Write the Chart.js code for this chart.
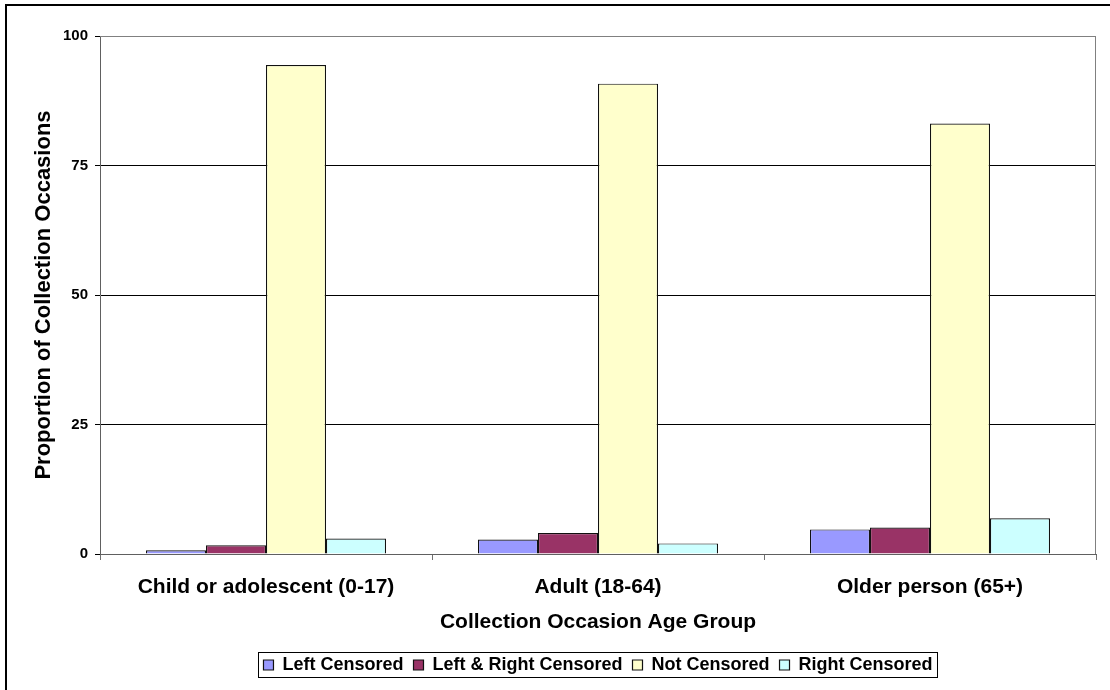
<!DOCTYPE html>
<html>
<head>
<meta charset="utf-8">
<script src="https://cdn.jsdelivr.net/npm/chart.js@4/dist/chart.umd.min.js"></script>
<style>
    html, body { margin: 0; padding: 0; background: #fff; }
    #wrap { width: 1110px; height: 690px; position: relative; }
</style>
</head>
<body>
<div id="wrap"><canvas id="chart" width="1110" height="690"></canvas></div>
<script>
// Data
const categories = ['Child or adolescent (0-17)', 'Adult (18-64)', 'Older person (65+)'];
const leftCensored = [0.7, 2.8, 4.75];
const leftRightCensored = [1.7, 4.05, 5.1];
const notCensored = [94.4, 90.8, 83.1];
const rightCensored = [3.0, 2.05, 6.9];
const yTicks = [0, 25, 50, 75, 100];

const FONT = 'Arial, "Liberation Sans", sans-serif';

// Outer frame, grey plot-area border and a box round the legend
const framePlugin = {
    id: 'frame',
    beforeDraw(chart) {
        const ctx = chart.ctx;
        ctx.save();
        ctx.fillStyle = '#fff';
        ctx.fillRect(0, 0, chart.width, chart.height);
        ctx.strokeStyle = '#000';
        ctx.lineWidth = 2;
        ctx.strokeRect(6, 5, chart.width + 10, chart.height + 10);
        ctx.restore();
    },
    beforeDatasetsDraw(chart) {
        const a = chart.chartArea;
        const ctx = chart.ctx;
        ctx.save();
        ctx.strokeStyle = '#808080';
        ctx.lineWidth = 1;
        ctx.beginPath();
        ctx.moveTo(a.left, a.top + 0.5);
        ctx.lineTo(a.right - 0.5, a.top + 0.5);
        ctx.lineTo(a.right - 0.5, a.bottom);
        ctx.stroke();
        ctx.restore();
    },
    afterDraw(chart) {
        const lg = chart.legend;
        if (!lg || !lg.legendHitBoxes.length) return;
        const boxes = lg.legendHitBoxes;
        const first = boxes[0];
        const last = boxes[boxes.length - 1];
        const ctx = chart.ctx;
        ctx.save();
        ctx.strokeStyle = '#000';
        ctx.lineWidth = 1;
        const x0 = Math.round(first.left) - 4.5;
        const x1 = Math.round(last.left + last.width) + 4.5;
        const y0 = Math.round(first.top) - 3.5;
        const y1 = Math.round(first.top + first.height) + 3.5;
        ctx.strokeRect(x0, y0, x1 - x0, y1 - y0);
        ctx.restore();
    }
};

function makeDataset(label, data, color) {
    return {
        label: label,
        data: data,
        backgroundColor: color,
        borderColor: '#111',
        borderWidth: 1.2,
        categoryPercentage: 0.723,
        barPercentage: 1.0
    };
}

const ctx = document.getElementById('chart');
new Chart(ctx, {
    type: 'bar',
    data: {
        labels: categories,
        datasets: [
            makeDataset('Left Censored', leftCensored, '#9999FF'),
            makeDataset('Left & Right Censored', leftRightCensored, '#993366'),
            makeDataset('Not Censored', notCensored, '#FFFFCC'),
            makeDataset('Right Censored', rightCensored, '#CCFFFF')
        ]
    },
    options: {
        responsive: false,
        animation: false,
        devicePixelRatio: 1,
        layout: {
            padding: { left: 5, top: 36, right: 14, bottom: 6 }
        },
        plugins: {
            tooltip: { enabled: false },
            legend: {
                position: 'bottom',
                fullSize: false,
                labels: {
                    color: '#000',
                    font: { family: FONT, size: 18, weight: 'bold' },
                    boxWidth: 10,
                    boxHeight: 10,
                    padding: 10
                }
            }
        },
        scales: {
            x: {
                afterFit(scale) { scale.height = 92; },
                grid: {
                    drawOnChartArea: false,
                    drawTicks: true,
                    tickLength: 6,
                    color: '#707070'
                },
                border: { display: true, color: '#606060', width: 1 },
                ticks: {
                    color: '#000',
                    padding: 15,
                    font: { family: FONT, size: 21, weight: 'bold' },
                    maxRotation: 0
                },
                title: {
                    display: true,
                    text: 'Collection Occasion Age Group',
                    color: '#000',
                    font: { family: FONT, size: 21, weight: 'bold' },
                    padding: { top: 4, bottom: 11 }
                }
            },
            y: {
                min: 0,
                max: 100,
                afterFit(scale) { scale.width = 95; },
                afterBuildTicks(scale) {
                    scale.ticks = yTicks.map(v => ({ value: v }));
                },
                grid: {
                    color: c => (c.tick && c.tick.value === 100) ? '#808080' : '#000',
                    tickColor: '#000',
                    tickLength: 5,
                    drawTicks: true
                },
                border: { display: true, color: '#606060', width: 1 },
                ticks: {
                    color: '#000',
                    padding: 7,
                    font: { family: FONT, size: 15, weight: 'bold' }
                },
                title: {
                    display: true,
                    text: 'Proportion of Collection Occasions',
                    color: '#000',
                    font: { family: FONT, size: 22, weight: 'bold' },
                    padding: { top: 26, bottom: 0 }
                }
            }
        }
    },
    plugins: [framePlugin]
});
</script>
</body>
</html>
